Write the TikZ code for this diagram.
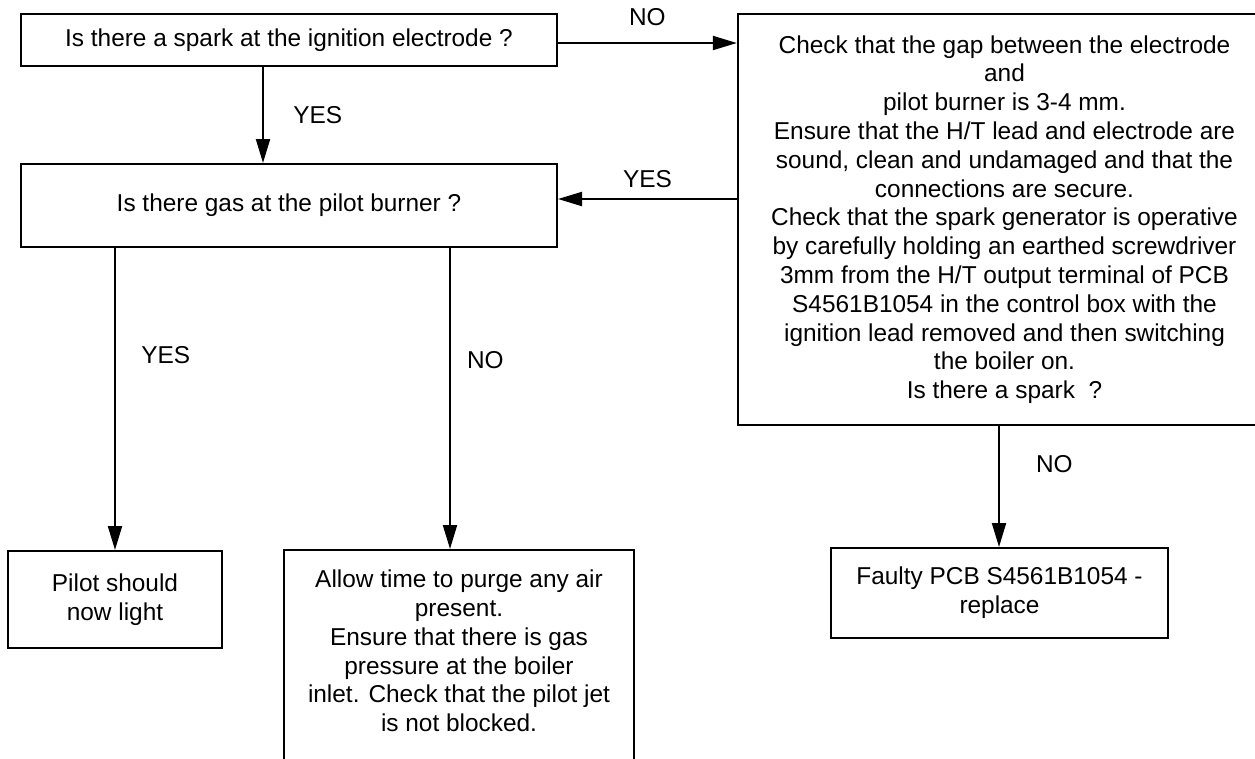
\documentclass[tikz,border=0pt]{standalone}
\usepackage{fontspec}
\setmainfont{Liberation Sans}
\usetikzlibrary{arrows.meta,positioning}

\begin{document}
\begin{tikzpicture}[x=0.75pt, y=-0.75pt,
  every node/.style={font=\fontsize{18.3}{21.6}\selectfont},
  box/.style={rectangle, draw, line width=1.5pt, align=center, inner sep=0pt},
  lbl/.style={inner sep=0pt},
  arr/.style={line width=1.5pt, -{Triangle[length=18pt,width=10.5pt]}}]
\useasboundingbox (0,0) rectangle (1255,758);

% questions on the left
\node[box, minimum width=402pt, minimum height=39pt] (spark) at (289,40) {Is there a spark at the ignition electrode ?};
\node[box, minimum width=402pt, minimum height=62.25pt] (gas) at (289,205.5) {Is there gas at the pilot burner ?};

% checks on the right
\node[box, minimum width=400pt, minimum height=308.25pt] (check) at (1004.5,219.5) {Check that the gap between the electrode\\and\\pilot burner is 3-4 mm.\\Ensure that the H/T lead and electrode are\\sound, clean and undamaged and that the\\connections are secure.\\Check that the spark generator is operative\\by carefully holding an earthed screwdriver\\3mm from the H/T output terminal of PCB\\S4561B1054 in the control box with the\\ignition lead removed and then switching\\the boiler on.\\Is there a spark~~?};
\node[box, minimum width=252.75pt, minimum height=67.5pt] (faulty) at (999.5,593) {Faulty PCB S4561B1054 -\\replace};

% outcomes
\node[box, minimum width=160.5pt, minimum height=72.75pt] (light) at (115,599.5) {Pilot should\\now light};
\node[box, anchor=north, minimum width=262.5pt, inner ysep=15pt, text depth=40pt] (purge) at (459,549) {Allow time to purge any air\\present.\\Ensure that there is gas\\pressure at the boiler\\inlet. Check that the pilot jet\\is not blocked.};
\coordinate (purgein) at ([xshift=-6.75pt]purge.north);
\coordinate (faultyin) at ([xshift=-0.375pt]faulty.north);

% connectors
\draw[arr] ([xshift=-19.5pt]spark.south) -- node[lbl, right=22pt] {YES} ([xshift=-19.5pt]gas.north);
\draw[arr] ([yshift=-2.25pt]spark.east) -- node[lbl, above=12pt] {NO} ([yshift=-2.25pt]spark.east -| check.west);
\draw[arr] ([yshift=4.875pt]gas.east -| check.west) -- node[lbl, above=8pt] {YES} ([yshift=4.875pt]gas.east);
\draw[arr] (gas.south -| light.north) -- node[lbl, right=19pt, pos=0.355] {YES} (light.north);
\draw[arr] (gas.south -| purgein) -- node[lbl, right=12pt, pos=0.374] {NO} (purgein);
\draw[arr] (check.south -| faultyin) -- node[lbl, right=27pt, pos=0.317] {NO} (faultyin);
\end{tikzpicture}
\end{document}
